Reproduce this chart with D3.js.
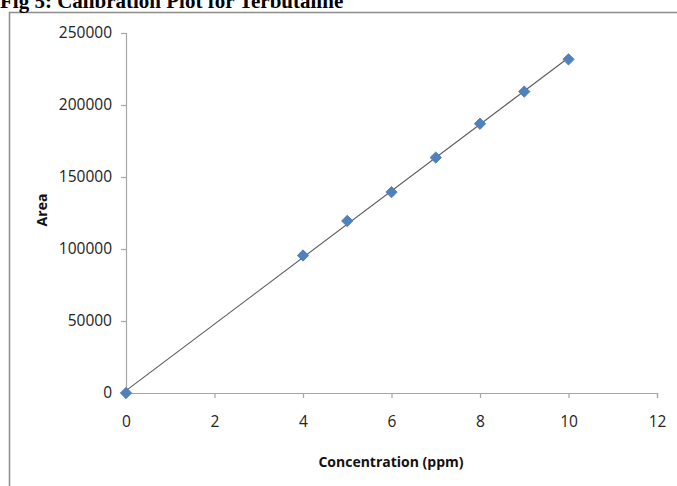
<!DOCTYPE html>
<html>
<head>
<meta charset="utf-8">
<script src="https://cdn.jsdelivr.net/npm/d3@7"></script>
<style>
  body { margin: 0; background: #fff; }
  svg { display: block; }
</style>
</head>
<body>
<div id="chart"></div>
<script>
// calibration data
var conc = [0, 4, 5, 6, 7, 8, 9, 10];
var area = [0, 95500, 119500, 139500, 163500, 187000, 209300, 231700];
var xTicks = [0, 2, 4, 6, 8, 10, 12];
var yTicks = [0, 50000, 100000, 150000, 200000, 250000];

function draw() {
  "use strict";
  var W = 677, H = 486;
  var pLeft = 126, pRight = 657, pTop = 33, pBottom = 393;

  var svg = d3.select("#chart").append("svg")
      .attr("width", W)
      .attr("height", H);

  /* outer chart frame, runs off the page on right and bottom */
  svg.append("rect")
      .attr("x", 9.5).attr("y", 12.5)
      .attr("width", 700).attr("height", 500)
      .attr("fill", "#fff")
      .attr("stroke", "#8c8c8c")
      .attr("stroke-width", 1.5);

  /* title, cut off by the top of the page */
  svg.append("text")
      .attr("x", 0).attr("y", 8)
      .style("font-family", "'Liberation Serif', 'Times New Roman', serif")
      .style("font-weight", "bold")
      .style("font-size", "21px")
      .attr("fill", "#000")
      .text("Fig 5: Calibration Plot for Terbutaline");

  var x = d3.scaleLinear().domain([0, 12]).range([pLeft, pRight]);
  var y = d3.scaleLinear().domain([0, 250000]).range([pBottom, pTop]);

  var xAxis = svg.append("g")
      .attr("transform", "translate(0," + pBottom + ")")
      .call(d3.axisBottom(x).tickValues(xTicks).tickSize(5).tickPadding(18).tickFormat(d3.format("d")));
  var yAxis = svg.append("g")
      .attr("transform", "translate(" + pLeft + ",0)")
      .call(d3.axisLeft(y).tickValues(yTicks).tickSize(5).tickPadding(9).tickFormat(d3.format("d")));

  [xAxis, yAxis].forEach(function (g) {
    g.select(".domain").attr("stroke", "#a6a6a6").attr("stroke-width", 1.2);
    g.selectAll(".tick line").attr("stroke", "#a6a6a6").attr("stroke-width", 1.2);
    g.selectAll("text")
      .attr("fill", "#222")
      .style("font-family", "'Open Sans', sans-serif")
      .style("font-size", "15.5px");
  });

  /* least squares trend line */
  var mx = d3.mean(conc), my = d3.mean(area);
  var sxy = d3.sum(conc, function (c, i) { return (c - mx) * (area[i] - my); });
  var sxx = d3.sum(conc, function (c) { return (c - mx) * (c - mx); });
  var slope = sxy / sxx, icpt = my - slope * mx;
  var x0 = d3.min(conc), x1 = d3.max(conc);

  svg.append("line")
      .attr("x1", x(x0)).attr("y1", y(icpt + slope * x0))
      .attr("x2", x(x1)).attr("y2", y(icpt + slope * x1))
      .attr("stroke", "#5a5a5a")
      .attr("stroke-width", 1.1);

  var diamond = d3.symbol().type(d3.symbolSquare).size(64);
  svg.selectAll("path.pt")
    .data(conc)
    .enter()
    .append("path")
      .attr("class", "pt")
      .attr("d", diamond)
      .attr("transform", function (d, i) { return "translate(" + x(d) + "," + y(area[i]) + ") rotate(45)"; })
      .attr("fill", "#4f81bd")
      .attr("stroke", "#4a7ab5")
      .attr("stroke-width", 0.8);

  /* axis titles */
  svg.append("text")
      .attr("x", 391).attr("y", 467)
      .attr("text-anchor", "middle")
      .style("font-family", "'Open Sans', sans-serif")
      .style("font-weight", "bold")
      .style("font-size", "14px")
      .attr("fill", "#111")
      .text("Concentration (ppm)");

  svg.append("text")
      .attr("transform", "translate(47,210) rotate(-90)")
      .attr("text-anchor", "middle")
      .style("font-family", "'Open Sans', sans-serif")
      .style("font-weight", "bold")
      .style("font-size", "14px")
      .attr("fill", "#111")
      .text("Area");
}
draw();
</script>
</body>
</html>
